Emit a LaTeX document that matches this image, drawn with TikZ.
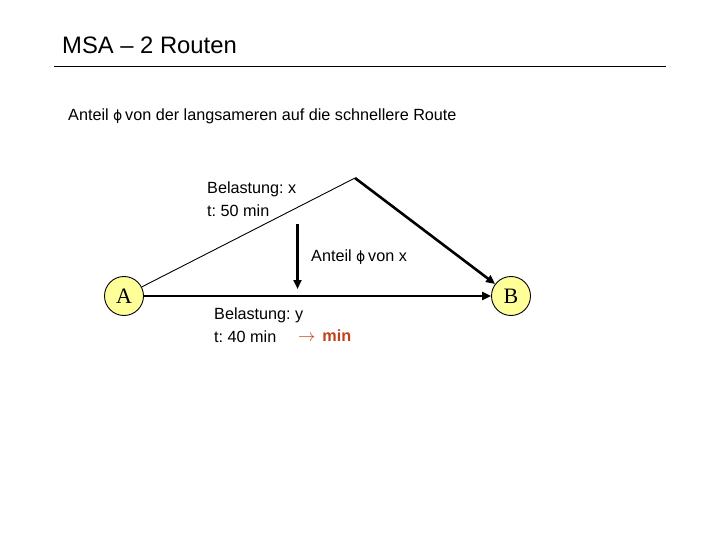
\documentclass[tikz,border=0pt]{standalone}
\usepackage{fontspec}
\setmainfont{Liberation Sans}
\newfontfamily\serifnode{Liberation Serif}
\newfontfamily\phifont{DejaVu Sans}
\frenchspacing
\usetikzlibrary{arrows.meta}
\definecolor{nodeyellow}{HTML}{FFFF99}
\definecolor{minred}{HTML}{C0401A}
\newcommand{\myphi}{{\phifont\fontsize{14}{16}\selectfont ϕ}}
\tikzset{
  txt/.style={anchor=base west, inner sep=0pt, font=\fontsize{16.2}{18}\selectfont},
  place/.style={circle, draw=black, line width=0.9pt, fill=nodeyellow, minimum size=39pt, inner sep=0pt, font=\serifnode\fontsize{22}{24}\selectfont},
  thickarrow/.style={line width=2.6pt, -{Triangle[length=9pt,width=8pt]}},
}
\begin{document}
\begin{tikzpicture}[x=1pt,y=-1pt]
\useasboundingbox (0,0) rectangle (720,540);
% title
\node[anchor=base west, inner sep=0pt, font=\fontsize{23.8}{26}\selectfont] (title) at (62,54) {MSA -- 2 Routen};
\draw[line width=0.9pt] (54,66.5) coordinate (r1) -- (666,66.5) coordinate (r2);
\node[txt] (sub) at (68,121) {Anteil \myphi\,von der langsameren auf die schnellere Route};
% nodes
\node[place] (A) at (124,296) {A};
\node[place] (B) at (511,296) {B};
\coordinate (apex) at (355,178);
% routes
\draw[line width=0.9pt] (A) -- (apex);
\draw[thickarrow] (apex) -- (B);
\draw[thickarrow] (A) -- (B);
% down arrow
\coordinate (d1) at (297.5,224);
\coordinate (d2) at (297.5,289);
\draw[line width=2.2pt, -{Triangle[length=9pt,width=8pt]}] (d1) -- (d2);
% labels
\node[txt] (bx) at (207,194) {Belastung: x};
\node[txt] (tx) at (207,217) {t: 50 min};
\node[txt] (ax) at (311,261) {Anteil \myphi\,von x};
\node[txt] (by) at (214,319) {Belastung: y};
\node[txt] (ty) at (214,342) {t: 40 min};
\node[txt, text=minred] (mn) at (298,341) {$\rightarrow$\hspace{7pt}\textbf{min}};
\end{tikzpicture}
\end{document}
